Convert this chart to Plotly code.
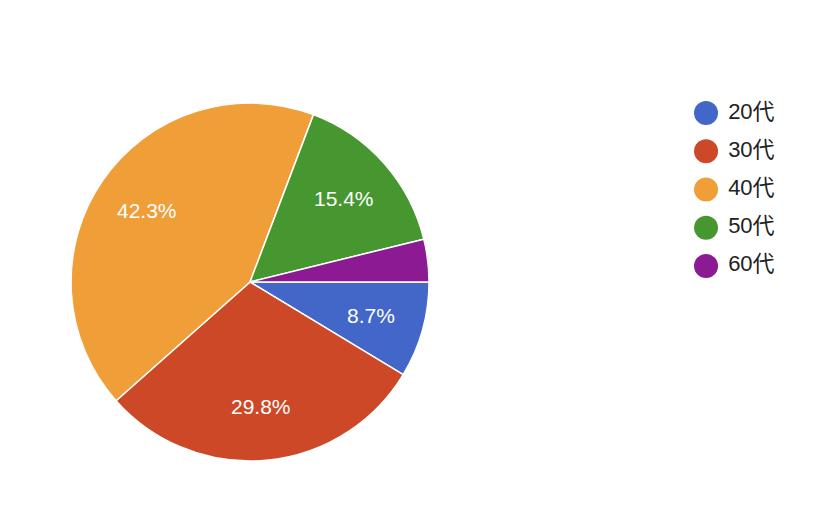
import math
import plotly.graph_objects as go

# 年代別の回答数（合計104）
labels = ["20代", "30代", "40代", "50代", "60代"]
counts = [9, 31, 44, 16, 4]
colors = ["#4267c8", "#cc4826", "#f09e38", "#46972f", "#8b1a93"]

fonte = "Arial, 'Liberation Sans', 'Noto Sans CJK JP', sans-serif"
W, H = 826, 512

# domínio da pizza (centro e raio em pixels)
pie_x = [0.0763, 0.5097]
pie_y = [0.1152, 0.8145]

fig = go.Figure()

fig.add_trace(go.Pie(
    labels=labels,
    values=counts,
    sort=False,
    direction="clockwise",
    rotation=90,
    marker=dict(colors=colors, line=dict(color="white", width=1.5)),
    textinfo="none",
    domain=dict(x=pie_x, y=pie_y),
    showlegend=False,
    hoverinfo="label+percent",
))

# rótulos de porcentagem no estilo Google (fatias pequenas sem rótulo)
cx = (pie_x[0] + pie_x[1]) / 2 * W
cy = (1 - (pie_y[0] + pie_y[1]) / 2) * H
raio = (pie_x[1] - pie_x[0]) * W / 2
total = sum(counts)
acum = 0
for c in counts:
    pct = c / total * 100
    meio = (acum + c / 2) / total * 2 * math.pi
    acum += c
    if pct < 5:
        continue
    px_ = cx + 0.7 * raio * math.cos(meio)
    py_ = cy + 0.7 * raio * math.sin(meio)
    fig.add_annotation(
        x=px_ / W, y=1 - py_ / H, xref="paper", yref="paper",
        text=f"{pct:.1f}%", showarrow=False,
        font=dict(color="white", size=21, family=fonte),
        xanchor="center", yanchor="middle",
    )

# legenda com círculos grandes (desenhada como scatter)
fig.add_trace(go.Scatter(
    x=[0] * len(labels),
    y=labels,
    mode="markers+text",
    marker=dict(size=24, color=colors),
    text=[" " + l for l in labels],
    textposition="middle right",
    textfont=dict(size=22, color="#222222", family=fonte),
    showlegend=False,
    hoverinfo="skip",
    cliponaxis=False,
))

fig.update_layout(
    width=W,
    height=H,
    margin=dict(l=0, r=0, t=0, b=0),
    paper_bgcolor="white",
    plot_bgcolor="white",
    xaxis=dict(domain=[0.82, 1.0], range=[-1, 6.18], visible=False, fixedrange=True),
    yaxis=dict(domain=[0.4588, 0.8322], range=[4.5, -0.5], type="category",
               categoryarray=labels, visible=False, fixedrange=True),
)

fig.write_html("out.html")
